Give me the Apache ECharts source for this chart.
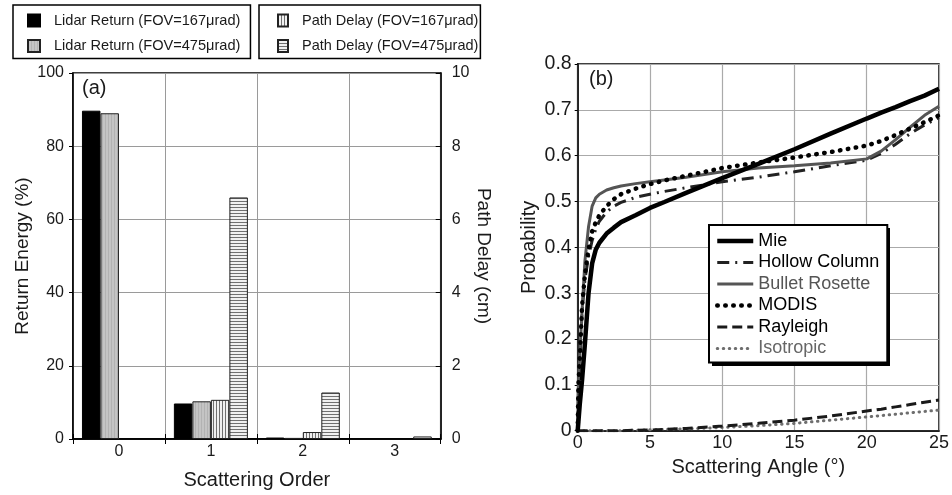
<!DOCTYPE html>
<html>
<head>
<meta charset="utf-8">
<script src="https://cdn.jsdelivr.net/npm/echarts@6/dist/echarts.min.js"></script>
<style>html,body{margin:0;padding:0;background:#fff}#c{width:952px;height:495px}</style>
</head>
<body>
<div id="c"></div>
<script>
// ---- Panel (a) data ----
const orders = ['0', '1', '2', '3'];
const lidar167 = [89.7, 9.7, 0.4, null];   // Return Energy (%)
const lidar475 = [89.0, 10.3, 0.3, null];  // Return Energy (%)
const delay167 = [null, 1.07, 0.19, null]; // Path Delay (cm)
const delay475 = [null, 6.6, 1.27, 0.07];  // Path Delay (cm)
const energyTicks = [0, 20, 40, 60, 80, 100];
const delayTicks = [0, 2, 4, 6, 8, 10];

// ---- Panel (b) data ----
const angles =      [0, 0.05, 0.15, 0.3, 0.5, 0.75, 1, 1.25, 1.5, 2, 2.5, 3, 4, 5, 6, 7.5, 10, 12.5, 15, 17.5, 20, 21, 22, 23, 24, 25];
const mie =         [0, 0.02, 0.06, 0.11, 0.19, 0.30, 0.365, 0.395, 0.41, 0.43, 0.443, 0.455, 0.47, 0.486, 0.499, 0.519, 0.551, 0.582, 0.614, 0.648, 0.681, 0.694, 0.706, 0.719, 0.731, 0.746];
const hollow =      [0, 0.09, 0.15, 0.26, 0.33, 0.38, 0.415, 0.44, 0.457, 0.477, 0.49, 0.498, 0.509, 0.516, 0.522, 0.530, 0.543, 0.553, 0.565, 0.578, 0.590, 0.605, 0.625, 0.648, 0.667, 0.683];
const bullet =      [0, 0.10, 0.17, 0.26, 0.37, 0.445, 0.49, 0.508, 0.516, 0.525, 0.53, 0.534, 0.539, 0.543, 0.547, 0.553, 0.565, 0.573, 0.578, 0.584, 0.593, 0.610, 0.635, 0.662, 0.688, 0.708];
const modis =       [0, 0.10, 0.16, 0.27, 0.34, 0.395, 0.435, 0.455, 0.47, 0.49, 0.505, 0.516, 0.528, 0.538, 0.546, 0.556, 0.573, 0.585, 0.596, 0.608, 0.622, 0.632, 0.645, 0.659, 0.673, 0.688];
const rayleigh =    [0, 0, 0, 0, 0, 0, 0, 0, 0, 0, 0, 0, 0.001, 0.0015, 0.003, 0.005, 0.010, 0.016, 0.023, 0.032, 0.043, 0.047, 0.052, 0.057, 0.062, 0.067];
const isotropic =   [0, 0, 0, 0, 0, 0, 0, 0, 0, 0, 0, 0, 0.001, 0.002, 0.003, 0.004, 0.007, 0.011, 0.016, 0.023, 0.030, 0.033, 0.036, 0.039, 0.042, 0.045];

const FONT = '"Liberation Sans", Arial, Helvetica, sans-serif';
const TXT = '#1a1a1a';

function pattern(w, h, draw) {
  const c = document.createElement('canvas');
  c.width = w; c.height = h;
  draw(c.getContext('2d'));
  return { image: c, repeat: 'repeat' };
}
const grayFill = pattern(3, 1, g => { g.fillStyle = '#c4c4c4'; g.fillRect(0, 0, 3, 1); g.fillStyle = '#b2b2b2'; g.fillRect(0, 0, 1, 1); });
const vStripe = pattern(3, 1, g => { g.fillStyle = '#f0f0f0'; g.fillRect(0, 0, 3, 1); g.fillStyle = '#707070'; g.fillRect(0, 0, 1, 1); });
const hStripe = pattern(1, 3, g => { g.fillStyle = '#f0f0f0'; g.fillRect(0, 0, 1, 3); g.fillStyle = '#707070'; g.fillRect(0, 0, 1, 1); });

const pair = (xs, ys) => xs.map((x, i) => [x, ys[i]]);

const chart = echarts.init(document.getElementById('c'), null, { renderer: 'canvas' });
const barW = 18.5;
const axisLine = { show: true, lineStyle: { color: '#000', width: 1.5 } };
const noSym = { color: 'rgba(0,0,0,0)', borderColor: 'rgba(0,0,0,0)', borderWidth: 0 };

const option = {
  animation: false,
  backgroundColor: '#fff',
  textStyle: { fontFamily: FONT, color: TXT },
  grid: [
    { left: 73, top: 73, width: 367.7, height: 367, show: true, borderColor: '#000', borderWidth: 1.5, backgroundColor: 'transparent' },
    { left: 577.7, top: 64, width: 368, height: 366.7, show: true, borderColor: '#000', borderWidth: 1.5, backgroundColor: 'transparent' }
  ],
  legend: [
    {
      data: ['Lidar Return (FOV=167μrad)', 'Lidar Return (FOV=475μrad)'],
      orient: 'vertical', left: 13, top: 5,
      padding: [8, 10, 5, 14], itemGap: 10.5, itemWidth: 12, itemHeight: 12, icon: 'rect',
      borderColor: '#000', borderWidth: 1.5, backgroundColor: '#fff',
      textStyle: { fontFamily: FONT, fontSize: 14.6, color: TXT, padding: [0, 0, 0, 9] }
    },
    {
      data: ['Path Delay (FOV=167μrad)', 'Path Delay (FOV=475μrad)'],
      orient: 'vertical', left: 259, top: 5,
      padding: [8, 2, 5, 18], itemGap: 10.5, itemWidth: 10, itemHeight: 12, icon: 'rect',
      borderColor: '#000', borderWidth: 1.5, backgroundColor: '#fff',
      textStyle: { fontFamily: FONT, fontSize: 14.5, color: TXT, padding: [0, 0, 0, 9] }
    },
    {
      data: [
        { name: 'Mie', textStyle: { color: '#000' } },
        { name: 'Hollow Column', textStyle: { color: '#000' } },
        { name: 'Bullet Rosette', textStyle: { color: '#555' } },
        { name: 'MODIS', textStyle: { color: '#000' } },
        { name: 'Rayleigh', textStyle: { color: '#000' } },
        { name: 'Isotropic', textStyle: { color: '#666' } }
      ],
      orient: 'vertical', left: 709, top: 225, z: 6,
      padding: [7, 8, 5, 6], itemGap: 3.5, itemWidth: 36, itemHeight: 14,
      itemStyle: noSym,
      lineStyle: { width: 'inherit' },
      borderColor: '#000', borderWidth: 2, backgroundColor: '#fff',
      textStyle: { fontFamily: FONT, fontSize: 18, lineHeight: 18 }
    }
  ],
  xAxis: [
    {
      type: 'category', gridIndex: 0, data: orders, position: 'bottom',
      axisLine, axisTick: { show: true, inside: true, length: 5, lineStyle: { color: '#000' } },
      axisLabel: { fontSize: 16, color: TXT, margin: 5 },
      splitLine: { show: true, lineStyle: { color: '#9a9a9a', width: 1 } },
      name: 'Scattering Order', nameLocation: 'middle', nameGap: 31,
      nameTextStyle: { fontSize: 20, color: TXT }
    },
    {
      type: 'category', gridIndex: 0, data: orders, position: 'top',
      axisLine, axisTick: { show: true, inside: true, length: 5, lineStyle: { color: '#000' } },
      axisLabel: { show: false }, splitLine: { show: false }
    },
    {
      type: 'value', gridIndex: 1, min: 0, max: 25, interval: 5,
      axisLine, axisTick: { show: false },
      axisLabel: { fontSize: 18, color: TXT, margin: 3 },
      splitLine: { show: true, lineStyle: { color: '#aaaaaa', width: 1.2 } },
      name: 'Scattering Angle (°)', nameLocation: 'middle', nameGap: 27,
      nameTextStyle: { fontSize: 20, color: TXT }
    }
  ],
  yAxis: [
    {
      type: 'value', gridIndex: 0, min: energyTicks[0], max: energyTicks[energyTicks.length - 1], interval: energyTicks[1] - energyTicks[0],
      axisLine, axisTick: { show: true, inside: false, length: 4, lineStyle: { color: '#000' } },
      axisLabel: { fontSize: 16, color: TXT, margin: 9 },
      splitLine: { show: true, lineStyle: { color: '#9a9a9a', width: 1 } },
      name: 'Return Energy (%)', nameLocation: 'middle', nameGap: 41, nameRotate: 90,
      nameTextStyle: { fontSize: 19, color: TXT }
    },
    {
      type: 'value', gridIndex: 0, position: 'right', min: delayTicks[0], max: delayTicks[delayTicks.length - 1], interval: delayTicks[1] - delayTicks[0],
      axisLine, axisTick: { show: true, inside: true, length: 5, lineStyle: { color: '#000' } },
      axisLabel: { fontSize: 16, color: TXT, margin: 11 },
      splitLine: { show: false },
      name: 'Path Delay (cm)', nameLocation: 'middle', nameGap: 31, nameRotate: -90,
      nameTextStyle: { fontSize: 19, color: TXT }
    },
    {
      type: 'value', gridIndex: 1, min: 0, max: 0.8, interval: 0.1,
      axisLine, axisTick: { show: true, inside: false, length: 3, lineStyle: { color: '#000' } },
      axisLabel: { fontSize: 19.5, color: TXT, margin: 6, formatter: v => (v === 0 ? '0' : v.toFixed(1)) },
      splitLine: { show: true, lineStyle: { color: '#aaaaaa', width: 1.2 } },
      name: 'Probability', nameLocation: 'middle', nameGap: 38, nameRotate: 90,
      nameTextStyle: { fontSize: 20, color: TXT }
    }
  ],
  graphic: [
    { type: 'text', left: 82, top: 78, style: { text: '(a)', font: '20px ' + FONT, fill: TXT } },
    { type: 'text', left: 589, top: 69, style: { text: '(b)', font: '20px ' + FONT, fill: TXT } },
    { type: 'rect', left: 712, top: 228, z: 5, shape: { width: 178, height: 138 }, style: { fill: '#000' } }
  ],
  series: [
    { type: 'bar', name: 'Lidar Return (FOV=167μrad)', xAxisIndex: 0, yAxisIndex: 0, data: lidar167, barWidth: barW, barGap: '0%',
      itemStyle: { color: '#000', borderColor: '#000', borderWidth: 1 } },
    { type: 'bar', name: 'Lidar Return (FOV=475μrad)', xAxisIndex: 0, yAxisIndex: 0, data: lidar475, barWidth: barW, barGap: '0%',
      itemStyle: { color: grayFill, borderColor: '#222', borderWidth: 1 } },
    { type: 'bar', name: 'Path Delay (FOV=167μrad)', xAxisIndex: 0, yAxisIndex: 1, data: delay167, barWidth: barW, barGap: '0%',
      itemStyle: { color: vStripe, borderColor: '#222', borderWidth: 1 } },
    { type: 'bar', name: 'Path Delay (FOV=475μrad)', xAxisIndex: 0, yAxisIndex: 1, data: delay475, barWidth: barW, barGap: '0%',
      itemStyle: { color: hStripe, borderColor: '#222', borderWidth: 1 } },

    { type: 'line', name: 'Isotropic', xAxisIndex: 2, yAxisIndex: 2, data: pair(angles, isotropic), symbol: 'none', z: 3,
      lineStyle: { color: '#6e6e6e', width: 3, type: [0.5, 5.5], cap: 'round' }, itemStyle: { color: '#6e6e6e' } },
    { type: 'line', name: 'Rayleigh', xAxisIndex: 2, yAxisIndex: 2, data: pair(angles, rayleigh), symbol: 'none', z: 3,
      lineStyle: { color: '#1a1a1a', width: 3, type: [10, 5] }, itemStyle: { color: '#1a1a1a' } },
    { type: 'line', name: 'Hollow Column', xAxisIndex: 2, yAxisIndex: 2, data: pair(angles, hollow), symbol: 'none', z: 3,
      lineStyle: { color: '#222', width: 3, type: [12, 6, 2, 6] }, itemStyle: { color: '#222' } },
    { type: 'line', name: 'Bullet Rosette', xAxisIndex: 2, yAxisIndex: 2, data: pair(angles, bullet), symbol: 'none', z: 3,
      lineStyle: { color: '#555', width: 3 }, itemStyle: { color: '#555' } },
    { type: 'line', name: 'MODIS', xAxisIndex: 2, yAxisIndex: 2, data: pair(angles, modis), symbol: 'none', z: 3,
      lineStyle: { color: '#000', width: 4.5, type: [0.5, 7.5], cap: 'round' }, itemStyle: { color: '#000' } },
    { type: 'line', name: 'Mie', xAxisIndex: 2, yAxisIndex: 2, data: pair(angles, mie), symbol: 'none', z: 3,
      lineStyle: { color: '#000', width: 4.5 }, itemStyle: { color: '#000' } }
  ]
};
chart.setOption(option);
</script>
</body>
</html>
